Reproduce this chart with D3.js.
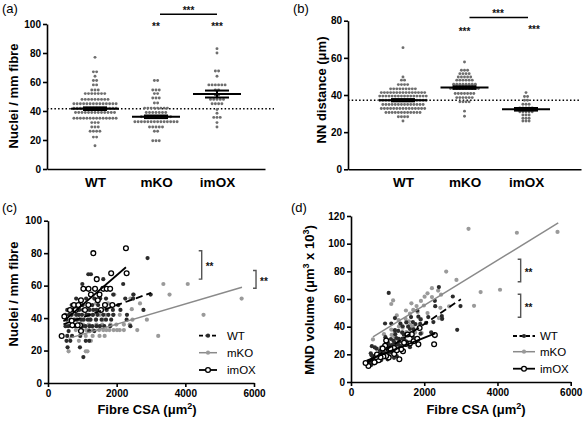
<!DOCTYPE html>
<html><head><meta charset="utf-8">
<script src="https://cdn.jsdelivr.net/npm/d3@7"></script>
<style>body{margin:0;background:#fff} svg{display:block}</style>
</head><body>
<script>
// ---------------- DATA ----------------
const groups = ["WT", "mKO", "imOX"];

// per-fibre data (panels a, c, d)
const wtCSA = [2900,1175,1250,1610,1000,2190,1200,1050,1900,2490,2990,
 2480,1350,1520,1690,2250,820,1110,
 690,860,1010,1160,1290,1460,1640,1860,2050,
 560,710,790,910,1020,1090,1210,1320,1410,1560,1710,1890,2110,2780,
 500,610,690,820,900,990,1120,1190,1310,1440,1610,1760,1900,2300,
 540,660,760,850,960,1040,1160,1240,1400,1560,1690,2290,1840,
 510,590,710,790,910,1000,1090,1210,1290,1410,1510,1640,1810,2400,
 600,1200,1350, 560,700,940, 540,650,1100,1200, 570,930, 1030];
const wtNuclei = [77,67,67,64,61,61,58,58,54.5,54.5,54.5,
 52,52,52,52,52,52,52,
 48,48,48,48,48,48,48,48,48,
 45,45,45,45,45,45,45,45,45,45,45,45,45,45,
 42,42,42,42,42,42,42,42,42,42,42,42,42,42,
 39,39,39,39,39,39,39,39,39,39,39,39,39,
 35,35,35,35,35,35,35,35,35,35,35,35,35,35,
 32,32,32, 29,29,29, 26,26,26,26, 22,22, 16];
const wtMND = [37.7,17.5,18.7,25.2,16.4,35.9,20.7,18.1,34.9,45.7,54.9,
 47.7,26.0,29.2,32.5,43.3,15.8,21.3,
 14.4,17.9,21.0,24.2,26.9,30.4,34.2,38.8,42.7,
 12.4,15.8,17.6,20.2,22.7,24.2,26.9,29.3,31.3,34.7,38.0,42.0,46.9,61.8,
 11.9,14.5,16.4,19.5,21.4,23.6,26.7,28.3,31.2,34.3,38.3,41.9,45.2,54.8,
 13.8,16.9,19.5,21.8,24.6,26.7,29.7,31.8,35.9,40.0,43.3,58.7,47.2,
 14.6,16.9,20.3,22.6,26.0,28.6,31.1,34.6,36.9,40.3,43.1,46.9,51.7,68.6,
 18.8,37.5,42.2, 19.3,24.1,32.4, 20.8,25.0,42.3,46.2, 25.9,42.3, 64.4];

const koCSA = [3360,4070,3540,1930,2480,5640,2400,2680,1750,1400,2440,1600,
 4530,890,1120,1290,1510,1690,1910,2090,
 2460,810,990,1210,1390,1610,2880,
 690,910,1020,1190,1410,1580,1820,1990,2210,2380,
 810,990,1110,1190,1310,1490,1610,1700,1790,1910,2010,2090,2210,2600,
 1100,1300,1500,1650,3210, 900,1250, 600,1100,1150];
const koNuclei = [61,61,54.5,54.5,54.5,52,52,49,49,49,45.5,45.5,
 42,42,42,42,42,42,42,42,
 39,39,39,39,39,39,39,
 36,36,36,36,36,36,36,36,36,36,
 32.6,32.6,32.6,32.6,32.6,32.6,32.6,32.6,32.6,32.6,32.6,32.6,32.6,32.6,
 29,29,29,29,29, 26,26, 19.5,19.5,19.5];
const koMND = [55.1,66.7,65.0,35.4,45.5,108.5,46.2,54.7,35.7,28.6,53.6,35.2,
 107.9,21.2,26.7,30.7,36.0,40.2,45.5,49.8,
 63.1,20.8,25.4,31.0,35.6,41.3,73.8,
 19.2,25.3,28.3,33.1,39.2,43.9,50.6,55.3,61.4,66.1,
 24.8,30.4,34.0,36.5,40.2,45.7,49.4,52.1,54.9,58.6,61.7,64.1,67.8,79.8,
 37.9,44.8,51.7,56.9,110.7, 34.6,48.1, 30.8,56.4,59.0];

const oxCSA = [2270,1320,1840,2290,1420,1030,1180,1370,1610,1710,1810,1250,1500,960,1450,
 1175,1660,1874,757,884,641,806,1078,1544,476,690,932,864,709,961,398];
const oxNuclei = [83,80,67.6,67.6,64,58,58,58,58,58,58,54.5,54.5,51,51,
 48,48,48,48,48,45,45,45,45,41,38.4,35.6,35.6,35.6,32,29];
const oxMND = [27.3,16.5,27.2,33.9,22.2,17.8,20.3,23.6,27.8,29.5,31.2,22.9,27.5,18.8,28.4,
 24.5,34.6,39.0,15.8,18.4,14.2,17.9,24.0,34.3,11.6,18.0,26.2,24.3,19.9,30.0,13.7];

// panel a summary
const nucleiMeans = [41.6, 36.0, 51.7];
const nucleiSEM = [0.9, 0.9, 2.4];
const nucleiRef = 41.5;

// panel b: nearest-neighbour distance (um)
const nnWT = [65.5,49.7,48,48,45.6,45.6,45.6,45.6,
 43.3,43.3,43.3,43.3,43.3,43.3,43.3,43.3,43.3,
 41.3,41.3,41.3,41.3,41.3,41.3,41.3,41.3,41.3,41.3,41.3,41.3,41.3,41.3,41.3,
 39.4,39.4,39.4,39.4,39.4,39.4,39.4,39.4,39.4,39.4,39.4,39.4,39.4,39.4,39.4,39.4,
 37.2,37.2,37.2,37.2,37.2,37.2,37.2,37.2,37.2,37.2,37.2,37.2,37.2,37.2,37.2,37.2,
 34.9,34.9,34.9,34.9,34.9,34.9,34.9,34.9,34.9,34.9,34.9,34.9,34.9,34.9,
 32.7,32.7,32.7,32.7,32.7,32.7,32.7,32.7,32.7,32.7,32.7,32.7,32.7,32.7,32.7,
 30.6,30.6,30.6,30.6,30.6,30.6,30.6,30.6,30.6,30.6,30.6,30.6,
 28.3,28.3,28.3,28.3,26];
const nnKO = [57.8,53.3,53.3,53.3,51.5,51.5,51.5,51.5,49.7,49.7,49.7,49.7,49.7,
 48,48,48,48,48,48,45.8,45.8,45.8,45.8,45.8,45.8,45.8,45.8,
 43.5,43.5,43.5,43.5,43.5,43.5,43.5,43.5,43.5,43.5,
 40.8,40.8,40.8,40.8,40.8,40.8,40.8,38.6,38.6,38.6,38.6,38.6,38.6,
 36.3,36.3,36.3,36.3,31.3,28.6];
const nnOX = [41.3,39.2,39.2,37.2,37.2,35,35,35,33,33,33,33,33,31,31,31,31,31,
 29.3,29.3,29.3,27.5,27.5,27.5,26,26,26];
const nnMeans = [37.2, 44.0, 32.3];
const nnSEM = [0.6, 0.7, 0.7];
const nnRef = 37.2;

// regression lines [CSA, value] endpoints
const wtFitNuclei = [[450,36.2],[3000,55.5]];
const koFitNuclei = [[600,27.5],[5650,59]];
const oxFitNuclei = [[450,38],[2270,71.3]];
const wtFitMND = [[450,14],[3000,59.8]];
const koFitMND = [[600,32.7],[5660,115]];
const oxFitMND = [[430,15.5],[2300,35.2]];

// ---------------- DRAWING ----------------
const FONT = "'Liberation Sans', Arial, Helvetica, sans-serif";
const svg = d3.select("body").append("svg").attr("width",583).attr("height",422)
  .style("font-family", FONT);

function styleAxis(g, fs){
  g.attr("font-family", FONT).attr("font-size", fs);
  g.select(".domain").attr("stroke","#000").attr("stroke-width",1.6);
  g.selectAll(".tick line").attr("stroke","#000").attr("stroke-width",1.6);
  g.selectAll(".tick text").attr("font-weight","bold").attr("fill","#000");
}
function panelLabel(x,y,t){
  svg.append("text").attr("x",x).attr("y",y).attr("font-size",13).text(t);
}
function yTitle(x,y,parts){
  const t = svg.append("text").attr("transform",`translate(${x},${y}) rotate(-90)`)
    .attr("text-anchor","middle").attr("font-size",13).attr("font-weight","bold");
  parts.forEach(p=>{
    const s = t.append("tspan").text(p.t);
    if(p.sup) s.attr("baseline-shift","super").attr("font-size",9);
  });
}
function xTitle(x,y,parts){
  const t = svg.append("text").attr("x",x).attr("y",y)
    .attr("text-anchor","middle").attr("font-size",13).attr("font-weight","bold");
  parts.forEach(p=>{
    const s = t.append("tspan").text(p.t);
    if(p.sup) s.attr("baseline-shift","super").attr("font-size",9);
  });
}
function stars(x,yc,t,anchor){
  svg.append("text").attr("x",x).attr("y",yc+5.5).attr("text-anchor",anchor||"middle")
    .attr("font-size",10).attr("font-weight","bold").attr("fill","#111").text(t);
}

function stripPanel(opt){
  const {x,y,data,means,sem,ref,refEnd,ticks,r,spacing} = opt;
  const g = svg.append("g");
  g.append("line").attr("x1",x.range()[0]).attr("x2",refEnd)
    .attr("y1",y(ref)).attr("y2",y(ref))
    .attr("stroke","#000").attr("stroke-width",1.5).attr("stroke-dasharray","1.5,2.2");
  groups.forEach((grp,gi)=>{
    const rows = d3.group(data[gi], v=>v);
    rows.forEach((vals,v)=>{
      const n = vals.length;
      vals.forEach((_,i)=>{
        g.append("circle").attr("cx", x(grp) + (i-(n-1)/2)*spacing)
          .attr("cy", y(v)).attr("r", r).attr("fill","#6e6e6e");
      });
    });
  });
  groups.forEach((grp,gi)=>{
    const cx = x(grp), m = means[gi], s = sem[gi];
    const lg = g.append("g").attr("stroke","#000").attr("stroke-width",2);
    lg.append("line").attr("x1",cx-24).attr("x2",cx+24).attr("y1",y(m)).attr("y2",y(m));
    lg.append("line").attr("x1",cx-12).attr("x2",cx+12).attr("y1",y(m+s)).attr("y2",y(m+s));
    lg.append("line").attr("x1",cx-12).attr("x2",cx+12).attr("y1",y(m-s)).attr("y2",y(m-s));
    lg.append("line").attr("x1",cx).attr("x2",cx).attr("y1",y(m+s)).attr("y2",y(m-s));
  });
  const ya = svg.append("g").attr("transform",`translate(${x.range()[0]},0)`)
    .call(d3.axisLeft(y).tickValues(ticks).tickFormat(d3.format("d")).tickSize(4).tickPadding(2).tickSizeOuter(0));
  styleAxis(ya, 10);
  const xa = svg.append("g").attr("transform",`translate(0,${y(0)})`)
    .call(d3.axisBottom(x).tickSize(0).tickPadding(8).tickSizeOuter(0));
  styleAxis(xa, 13.5);
}

// Panel (a)
const xA = d3.scalePoint().domain(groups).range([47,265]).padding(0.787);
const yA = d3.scaleLinear().domain([0,100]).range([169,24]);
stripPanel({x:xA,y:yA,data:[wtNuclei,koNuclei,oxNuclei],means:nucleiMeans,sem:nucleiSEM,
  ref:nucleiRef,refEnd:274,ticks:[0,20,40,60,80,100],r:1.45,spacing:3.25});
panelLabel(2,13,"(a)");
yTitle(18,96,[{t:"Nuclei / mm fibre"}]);
stars(xA("mKO"),24,"**");
stars(xA("imOX"),24,"***");
svg.append("line").attr("x1",xA("mKO")+4).attr("x2",xA("imOX")).attr("y1",14.3).attr("y2",14.3)
  .attr("stroke","#000").attr("stroke-width",1.5);
stars((xA("mKO")+xA("imOX"))/2+2,8.3,"***");

// Panel (b)
const xB = d3.scalePoint().domain(groups).range([348,581]).padding(0.894);
const yB = d3.scaleLinear().domain([0,80]).range([169.3,20.7]);
stripPanel({x:xB,y:yB,data:[nnWT,nnKO,nnOX],means:nnMeans,sem:nnSEM,
  ref:nnRef,refEnd:580,ticks:[0,20,40,60,80],r:1.45,spacing:3.1});
panelLabel(293,13,"(b)");
yTitle(326,90,[{t:"NN distance ("},{t:"μ"},{t:"m)"}]);
stars(xB("mKO"),29.3,"***");
stars(xB("imOX")+8,27.7,"***");
svg.append("line").attr("x1",xB("mKO")+5).attr("x2",xB("imOX")+2).attr("y1",17.5).attr("y2",17.5)
  .attr("stroke","#000").attr("stroke-width",1.5);
stars(498,11.7,"***");

// scatter panels
function scatterPanel(opt){
  const {x,y,series,fits,xt,yt,legend,brackets} = opt;
  const g = svg.append("g");
  const styles = [
    {fill:"#2b2b2b",stroke:"none",r:2.1,line:"#000",dash:"7,4"},
    {fill:"#9a9a9a",stroke:"none",r:2.1,line:"#8a8a8a",dash:null},
    {fill:"#fff",stroke:"#000",r:2.4,line:"#000",dash:null}
  ];
  [1,0,2].forEach(i=>{
    const [xs,ys] = series[i], st = styles[i];
    g.append("g").selectAll("circle").data(xs).join("circle")
      .attr("cx",(d)=>x(d)).attr("cy",(d,j)=>y(ys[j])).attr("r",st.r)
      .attr("fill",st.fill).attr("stroke",st.stroke).attr("stroke-width",1.3);
  });
  const line = d3.line().x(d=>x(d[0])).y(d=>y(d[1]));
  [1,0,2].forEach(i=>{
    const st = styles[i];
    g.append("path").attr("d",line(fits[i])).attr("fill","none")
      .attr("stroke",st.line).attr("stroke-width",i===1?1.5:1.8)
      .attr("stroke-dasharray",st.dash);
  });
  const ya = svg.append("g").attr("transform",`translate(${x.range()[0]},0)`)
    .call(d3.axisLeft(y).tickValues(yt).tickFormat(d3.format("d")).tickSize(4).tickPadding(2).tickSizeOuter(0));
  styleAxis(ya,10);
  const xa = svg.append("g").attr("transform",`translate(0,${y.range()[0]})`)
    .call(d3.axisBottom(x).tickValues(xt).tickFormat(d3.format("d")).tickSize(4).tickPadding(3).tickSizeOuter(0));
  styleAxis(xa,10);
  groups.forEach((grp,i)=>{
    const st = styles[i], ly = legend.y[i];
    svg.append("line").attr("x1",legend.x0).attr("x2",legend.x1).attr("y1",ly).attr("y2",ly)
      .attr("stroke",st.line).attr("stroke-width",i===1?1.5:1.8)
      .attr("stroke-dasharray",i===0?"4,2.5":null);
    svg.append("circle").attr("cx",(legend.x0+legend.x1)/2).attr("cy",ly).attr("r",st.r)
      .attr("fill",st.fill).attr("stroke",st.stroke).attr("stroke-width",1.3);
    svg.append("text").attr("x",legend.tx).attr("y",ly+4).attr("font-size",11.5).text(grp);
  });
  brackets.forEach(b=>{
    const bx = x(b.csa), y1 = y(b.hi), y2 = y(b.lo);
    svg.append("path").attr("d",`M${bx-3},${y1}H${bx}V${y2}H${bx-3}`)
      .attr("fill","none").attr("stroke","#555").attr("stroke-width",1.4);
    stars(bx+4,(y1+y2)/2,"**","start");
  });
}

// Panel (c)
const xC = d3.scaleLinear().domain([0,6000]).range([48,254]);
const yC = d3.scaleLinear().domain([0,100]).range([383,220.7]);
scatterPanel({x:xC,y:yC,
  series:[[wtCSA,wtNuclei],[koCSA,koNuclei],[oxCSA,oxNuclei]],
  fits:[wtFitNuclei,koFitNuclei,oxFitNuclei],
  xt:[0,2000,4000,6000], yt:[0,20,40,60,80,100],
  legend:{x0:199,x1:217,tx:227,y:[335.7,352.7,370]},
  brackets:[{csa:4477,hi:81.5,lo:64},{csa:6059,hi:69.3,lo:58.4}]});
panelLabel(2,212,"(c)");
yTitle(18,294,[{t:"Nuclei / mm fibre"}]);
xTitle(147,414,[{t:"Fibre CSA ("},{t:"μ"},{t:"m"},{t:"2",sup:true},{t:")"}]);

// Panel (d)
const xD = d3.scaleLinear().domain([0,6000]).range([351,570.7]);
const yD = d3.scaleLinear().domain([0,120]).range([382,216]);
scatterPanel({x:xD,y:yD,
  series:[[wtCSA,wtMND],[koCSA,koMND],[oxCSA,oxMND]],
  fits:[wtFitMND,koFitMND,oxFitMND],
  xt:[0,2000,4000,6000], yt:[0,20,40,60,80,100,120],
  legend:{x0:513,x1:535,tx:540,y:[336,351.7,368.7]},
  brackets:[{csa:4634,hi:88.7,lo:72.5},{csa:4634,hi:63.4,lo:46.8}]});
panelLabel(291,212,"(d)");
yTitle(314,300,[{t:"MND volume ("},{t:"μ"},{t:"m"},{t:"3",sup:true},{t:" x 10"},{t:"3",sup:true},{t:")"}]);
xTitle(476,414,[{t:"Fibre CSA ("},{t:"μ"},{t:"m"},{t:"2",sup:true},{t:")"}]);
</script>
</body></html>
